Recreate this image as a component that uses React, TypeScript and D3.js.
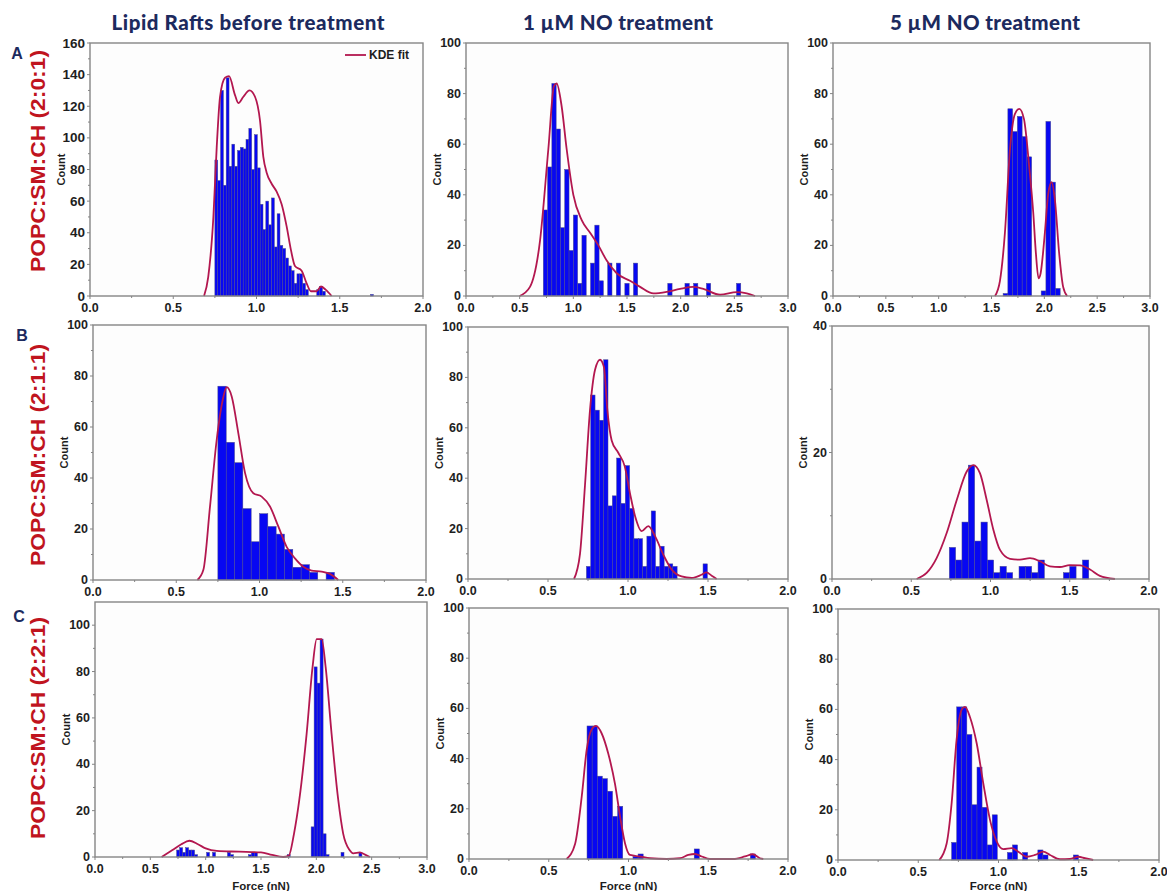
import React from "react";
import * as d3 from "d3";

// ---------- data: histogram counts (uniform bins) and KDE fit points ----------
// Row A: POPC:SM:CH (2:0:1)
const a1BinStart = 0.75;
const a1BinWidth = 0.017;
const a1Counts = [
  86, 73, 130, 70, 138, 82, 96, 82, 92, 94, 93, 99, 106, 80, 102, 81, 58, 42, 60, 45, 62, 31, 52, 32, 30,
  24, 19, 16, 8, 14, 14, 8, 4, 0, 0, 0, 4, 6, 3, 0, 0, 0, 0, 0, 0, 0, 0, 0, 0, 0, 0, 0, 0, 0, 0, 1,
];
const a1Kde: [number, number][] = [
  [0.685, 0], [0.71, 12], [0.741, 50], [0.761, 94], [0.781, 126], [0.811, 138], [0.835, 139], [0.871, 127],
  [0.891, 122], [0.921, 126], [0.958, 130], [0.991, 126], [1.021, 111], [1.041, 88], [1.061, 78], [1.091, 71],
  [1.121, 66], [1.151, 58], [1.181, 44], [1.207, 29], [1.231, 19], [1.271, 16], [1.301, 8], [1.327, 3],
  [1.361, 3], [1.387, 6], [1.415, 4], [1.451, 0],
];

const a2BinStart = 0.72;
const a2BinWidth = 0.04;
const a2Counts = [
  34, 51, 84, 66, 27, 50, 18, 32, 5, 24, 0, 13, 28, 6, 0, 13, 0, 13, 0, 5, 0, 13, 0, 0, 0, 0, 0, 0, 0, 5,
  0, 0, 0, 5, 0, 5, 0, 0, 5, 0, 0, 0, 0, 0, 0, 5,
];
const a2Kde: [number, number][] = [
  [0.5, 0], [0.596, 3.6], [0.69, 22], [0.767, 58], [0.82, 83], [0.845, 84], [0.891, 75], [0.938, 58],
  [1.0, 40], [1.078, 30], [1.156, 25], [1.233, 20], [1.311, 14], [1.404, 9], [1.528, 6], [1.622, 3.6],
  [1.746, 1], [1.87, 1.6], [1.994, 2.8], [2.118, 3.6], [2.211, 2.8], [2.367, 0.5], [2.523, 1.5],
  [2.616, 1], [2.693, 0],
];

const a3BinStart = 1.61;
const a3BinWidth = 0.045;
const a3Counts = [1, 74, 65, 71, 63, 55, 0, 0, 2, 69, 45, 3];
const a3Kde: [number, number][] = [
  [1.533, 0], [1.58, 6], [1.627, 25], [1.675, 58], [1.722, 72], [1.763, 74], [1.807, 70], [1.857, 51],
  [1.895, 33], [1.92, 17], [1.945, 7], [1.965, 9], [1.99, 18], [2.005, 25], [2.037, 40.5], [2.069, 45],
  [2.1, 38], [2.14, 17], [2.178, 3.6], [2.216, 0],
];

// Row B: POPC:SM:CH (2:1:1)
const b1BinStart = 0.75;
const b1BinWidth = 0.05;
const b1Counts = [76, 54, 46, 28, 15, 26, 21, 18, 12, 5, 6, 3, 0, 3];
const b1Kde: [number, number][] = [
  [0.627, 0], [0.663, 4], [0.703, 29], [0.743, 55], [0.779, 70.6], [0.803, 75.6], [0.833, 72],
  [0.873, 57.5], [0.913, 42], [0.963, 34], [1.013, 32.7], [1.063, 28.8], [1.113, 21], [1.163, 13],
  [1.213, 8.5], [1.263, 5.2], [1.313, 3.7], [1.373, 3.3], [1.423, 2.4], [1.473, 0],
];

const b2BinStart = 0.74;
const b2BinWidth = 0.027;
const b2Counts = [
  5, 73, 67, 63, 87, 29, 33, 48, 30, 45, 28, 16, 16, 5, 17, 27, 5, 13, 5, 6, 5, 0, 0, 0, 0, 0, 0, 6,
];
const b2Kde: [number, number][] = [
  [0.6625, 0], [0.7, 10], [0.731, 37], [0.7625, 67], [0.794, 83], [0.825, 87], [0.85, 84], [0.871, 67],
  [0.898, 55], [0.94, 50], [0.98, 44.6], [1.0125, 34], [1.044, 25], [1.085, 19], [1.127, 21],
  [1.169, 17], [1.221, 9.6], [1.273, 3.7], [1.335, 1], [1.398, 0.4], [1.46, 1.7], [1.49, 2.6],
  [1.523, 1.3], [1.554, 0],
];

const b3BinStart = 0.74;
const b3BinWidth = 0.04;
const b3Counts = [5, 3, 9, 18, 6, 9, 3, 1, 2, 1, 0, 2, 2, 1, 3, 0, 0, 0, 1, 2, 0, 3];
const b3Kde: [number, number][] = [
  [0.534, 0], [0.597, 0.95], [0.66, 3.3], [0.724, 7.3], [0.787, 12.5], [0.85, 17], [0.892, 18],
  [0.934, 16.7], [0.976, 12.5], [1.018, 7.8], [1.06, 4.6], [1.123, 3.2], [1.186, 3.05], [1.249, 3.3],
  [1.312, 2.8], [1.375, 2], [1.438, 1.9], [1.5, 2.2], [1.565, 2.15], [1.628, 1.5], [1.69, 0.5],
  [1.785, 0],
];

// Row C: POPC:SM:CH (2:2:1)
const c1BinStart = 0.738;
const c1BinWidth = 0.027;
const c1Counts = [
  3, 4, 2, 4, 3, 3, 1, 0, 0, 0, 2, 0, 2, 0, 0, 0, 0, 2, 1, 0, 0, 0, 0, 0, 1, 2, 2, 0, 0, 0, 0, 0, 0, 0,
  0, 0, 0, 1, 0, 0, 0, 0, 0, 0, 0, 13, 82, 75, 94, 10, 1, 0, 0, 0, 0, 2, 0, 0, 0, 0, 0, 2,
];
const c1Kde: [number, number][] = [
  [0.602, 0], [0.7, 3], [0.78, 5.5], [0.852, 7], [0.93, 5.5], [1.0, 3.7], [1.1, 2.6], [1.3, 2.3],
  [1.5, 2], [1.6, 0.9], [1.7, 0], [1.75, 0.5], [1.798, 10], [1.846, 24.6], [1.912, 53], [1.966, 82],
  [2.003, 94], [2.048, 94], [2.084, 82], [2.138, 53], [2.198, 24.6], [2.243, 10], [2.3, 3],
  [2.334, 1.6], [2.394, 2], [2.44, 1], [2.484, 0],
];

const c2BinStart = 0.74;
const c2BinWidth = 0.032;
const c2Counts = [
  53, 53, 33, 32, 27, 17, 21, 0, 0, 1, 2, 0, 0, 0, 0, 0, 0, 0, 0, 0, 0, 4, 0, 0, 0, 0, 0, 0, 0, 0, 0, 0, 2,
];
const c2Kde: [number, number][] = [
  [0.612, 0], [0.665, 6], [0.707, 25], [0.738, 43.6], [0.769, 51.6], [0.796, 53], [0.832, 50],
  [0.873, 42], [0.915, 30], [0.947, 17], [0.978, 6.3], [1.009, 1.6], [1.072, 1], [1.135, 0.3],
  [1.24, 0], [1.323, 0.3], [1.375, 1.6], [1.417, 2], [1.459, 1], [1.511, 0], [1.657, 0], [1.73, 1],
  [1.779, 1.9], [1.824, 0.3], [1.845, 0],
];

const c3BinStart = 0.708;
const c3BinWidth = 0.0316;
const c3Counts = [7, 61, 61, 50, 22, 37, 21, 6, 18, 0, 0, 3, 6, 0, 3, 0, 0, 4, 2, 0, 0, 0, 0, 0, 2];
const c3Kde: [number, number][] = [
  [0.631, 0], [0.677, 6.6], [0.708, 22.6], [0.739, 48], [0.771, 60], [0.791, 61], [0.822, 57],
  [0.864, 46.5], [0.905, 30.6], [0.947, 16], [0.989, 7.3], [1.03, 4.3], [1.082, 4.7], [1.123, 3.3],
  [1.176, 1.3], [1.227, 2], [1.279, 3.3], [1.321, 2], [1.383, 0.3], [1.445, 0.4], [1.497, 1.3],
  [1.539, 0.7], [1.59, 0],
];

// ---------- text ----------
const columnTitles = ["Lipid Rafts before treatment", "1 \u00b5M NO treatment", "5 \u00b5M NO treatment"];
const rowLetters = ["A", "B", "C"];
const rowLabels = ["POPC:SM:CH (2:0:1)", "POPC:SM:CH (2:1:1)", "POPC:SM:CH (2:2:1)"];
const yTitle = "Count";
const xTitle = "Force (nN)";
const legendLabel = "KDE fit";

// ---------- layout ----------
type Box = { l: number; r: number; t: number; b: number };
const boxes: Box[][] = [
  [
    { l: 90, r: 423, t: 43, b: 296 },
    { l: 466, r: 788, t: 43, b: 296 },
    { l: 833, r: 1150, t: 43, b: 296 },
  ],
  [
    { l: 93, r: 426, t: 325, b: 580 },
    { l: 468, r: 788, t: 327, b: 579 },
    { l: 832, r: 1149, t: 326, b: 579 },
  ],
  [
    { l: 95, r: 427, t: 602, b: 857 },
    { l: 469, r: 788, t: 608, b: 859 },
    { l: 838, r: 1159, t: 609, b: 860 },
  ],
];

type PanelSpec = {
  binStart: number;
  binWidth: number;
  counts: number[];
  kde: [number, number][];
  xMax: number;
  yMax: number;
  yTickMax: number;
  yStep: number;
};

const panels: PanelSpec[][] = [
  [
    { binStart: a1BinStart, binWidth: a1BinWidth, counts: a1Counts, kde: a1Kde, xMax: 2, yMax: 160, yTickMax: 160, yStep: 20 },
    { binStart: a2BinStart, binWidth: a2BinWidth, counts: a2Counts, kde: a2Kde, xMax: 3, yMax: 100, yTickMax: 100, yStep: 20 },
    { binStart: a3BinStart, binWidth: a3BinWidth, counts: a3Counts, kde: a3Kde, xMax: 3, yMax: 100, yTickMax: 100, yStep: 20 },
  ],
  [
    { binStart: b1BinStart, binWidth: b1BinWidth, counts: b1Counts, kde: b1Kde, xMax: 2, yMax: 100, yTickMax: 100, yStep: 20 },
    { binStart: b2BinStart, binWidth: b2BinWidth, counts: b2Counts, kde: b2Kde, xMax: 2, yMax: 100, yTickMax: 100, yStep: 20 },
    { binStart: b3BinStart, binWidth: b3BinWidth, counts: b3Counts, kde: b3Kde, xMax: 2, yMax: 40, yTickMax: 40, yStep: 20 },
  ],
  [
    { binStart: c1BinStart, binWidth: c1BinWidth, counts: c1Counts, kde: c1Kde, xMax: 3, yMax: 110, yTickMax: 100, yStep: 20 },
    { binStart: c2BinStart, binWidth: c2BinWidth, counts: c2Counts, kde: c2Kde, xMax: 2, yMax: 100, yTickMax: 100, yStep: 20 },
    { binStart: c3BinStart, binWidth: c3BinWidth, counts: c3Counts, kde: c3Kde, xMax: 2, yMax: 100, yTickMax: 100, yStep: 20 },
  ],
];

const AXIS_FONT = "'Liberation Sans', Arial, sans-serif";
const TITLE_FONT = "Lato, 'Open Sans', sans-serif";
const FRAME = "#858585";
const BAR_FILL = "#0707f2";
const BAR_EDGE = "#4a4a8c";
const KDE_COLOR = "#b3174f";
const NAVY = "#1c2a5e";
const ROW_RED = "#c0141e";

function Panel({ box, spec, showXTitle, showLegend, big }: { box: Box; spec: PanelSpec; showXTitle: boolean; showLegend: boolean; big: boolean }) {
  const x = d3.scaleLinear().domain([0, spec.xMax]).range([box.l, box.r]);
  const y = d3.scaleLinear().domain([0, spec.yMax]).range([box.b, box.t]);
  const line = d3
    .line<[number, number]>()
    .x((d) => x(d[0]))
    .y((d) => y(d[1]))
    .curve(d3.curveMonotoneX);

  const yTicks = d3.range(0, spec.yTickMax + 1e-6, spec.yStep);
  const yMinor = d3.range(spec.yStep / 2, spec.yMax, spec.yStep);
  const xTicks = d3.range(0, spec.xMax + 1e-6, 0.5);
  const xMinor = d3.range(0.25, spec.xMax, 0.5);
  const fmt = d3.format(".1f");
  const yFont = big ? 13.5 : 12.5;

  return (
    <g>
      <rect x={box.l} y={box.t} width={box.r - box.l} height={box.b - box.t} fill="#fdfdfd" />
      {spec.counts.map((c, i) => {
        if (c <= 0) return null;
        const x0 = x(spec.binStart + i * spec.binWidth);
        const x1 = x(spec.binStart + (i + 1) * spec.binWidth);
        return (
          <rect
            key={i}
            x={x0}
            y={y(c)}
            width={x1 - x0}
            height={y(0) - y(c)}
            fill={BAR_FILL}
            stroke={BAR_EDGE}
            strokeWidth={0.5}
          />
        );
      })}
      <path d={line(spec.kde) || ""} fill="none" stroke={KDE_COLOR} strokeWidth={1.8} />
      <rect x={box.l} y={box.t} width={box.r - box.l} height={box.b - box.t} fill="none" stroke={FRAME} strokeWidth={1.4} />
      {yTicks.map((v) => (
        <g key={"y" + v}>
          <line x1={box.l - 3} x2={box.l} y1={y(v)} y2={y(v)} stroke={FRAME} strokeWidth={1} />
          <text
            x={box.l - 5}
            y={y(v)}
            textAnchor="end"
            dominantBaseline="central"
            fontFamily={AXIS_FONT}
            fontWeight="bold"
            fontSize={yFont}
            fill="#1e1e1e"
          >
            {v}
          </text>
        </g>
      ))}
      {yMinor.map((v) => (
        <line key={"ym" + v} x1={box.l - 2} x2={box.l} y1={y(v)} y2={y(v)} stroke={FRAME} strokeWidth={1} />
      ))}
      {xTicks.map((v) => (
        <g key={"x" + v}>
          <line x1={x(v)} x2={x(v)} y1={box.b} y2={box.b + 3} stroke={FRAME} strokeWidth={1} />
          <text
            x={x(v)}
            y={box.b + 12}
            textAnchor="middle"
            dominantBaseline="central"
            fontFamily={AXIS_FONT}
            fontWeight="bold"
            fontSize={12.5}
            fill="#1e1e1e"
          >
            {fmt(v)}
          </text>
        </g>
      ))}
      {xMinor.map((v) => (
        <line key={"xm" + v} x1={x(v)} x2={x(v)} y1={box.b} y2={box.b + 2} stroke={FRAME} strokeWidth={1} />
      ))}
      <text
        transform={`translate(${box.l - 29},${(box.t + box.b) / 2}) rotate(-90)`}
        textAnchor="middle"
        dominantBaseline="central"
        fontFamily={AXIS_FONT}
        fontWeight="bold"
        fontSize={11}
        fill="#1e1e1e"
      >
        {yTitle}
      </text>
      {showXTitle && (
        <text
          x={(box.l + box.r) / 2}
          y={885.5}
          textAnchor="middle"
          dominantBaseline="central"
          fontFamily={AXIS_FONT}
          fontWeight="bold"
          fontSize={11.5}
          fill="#1e1e1e"
        >
          {xTitle}
        </text>
      )}
      {showLegend && (
        <g>
          <line x1={box.r - 78} x2={box.r - 57} y1={box.t + 12} y2={box.t + 12} stroke={KDE_COLOR} strokeWidth={1.8} />
          <text
            x={box.r - 54}
            y={box.t + 12}
            dominantBaseline="central"
            fontFamily={AXIS_FONT}
            fontWeight="bold"
            fontSize={12}
            fill="#1e1e1e"
          >
            {legendLabel}
          </text>
        </g>
      )}
    </g>
  );
}

const titleCenters = [248, 618, 985];
const titleWidths = [273, 190, 190];
const letterPos: [number, number][] = [
  [17, 53],
  [22, 335],
  [19, 616],
];
const rowLabelCenters = [161, 455, 728];

export default function App() {
  return (
    <svg
      width={1167}
      height={891}
      viewBox="0 0 1167 891"
      style={{ position: "absolute", left: 0, top: 0, background: "#ffffff" }}
    >
      <rect x={0} y={0} width={1167} height={891} fill="#ffffff" />
      {columnTitles.map((t, i) => (
        <text
          key={t}
          x={titleCenters[i]}
          y={30}
          textAnchor="middle"
          fontFamily={TITLE_FONT}
          fontWeight={900}
          fontSize={20.5}
          fill={NAVY}
          textLength={titleWidths[i]}
          lengthAdjust="spacing"
        >
          {t}
        </text>
      ))}
      {rowLetters.map((l, i) => (
        <text
          key={l}
          x={letterPos[i][0]}
          y={letterPos[i][1]}
          textAnchor="middle"
          dominantBaseline="central"
          fontFamily={AXIS_FONT}
          fontWeight="bold"
          fontSize={16}
          fill={NAVY}
        >
          {l}
        </text>
      ))}
      {rowLabels.map((l, i) => (
        <text
          key={l}
          transform={`translate(37,${rowLabelCenters[i]}) rotate(-90)`}
          textAnchor="middle"
          dominantBaseline="central"
          fontFamily={AXIS_FONT}
          fontWeight="bold"
          fontSize={21}
          fill={ROW_RED}
          textLength={222}
          lengthAdjust="spacingAndGlyphs"
        >
          {l}
        </text>
      ))}
      {panels.map((row, r) =>
        row.map((spec, c) => (
          <Panel
            key={`${r}-${c}`}
            box={boxes[r][c]}
            spec={spec}
            showXTitle={r === 2}
            showLegend={r === 0 && c === 0}
            big={r === 0 && c === 0}
          />
        ))
      )}
    </svg>
  );
}
